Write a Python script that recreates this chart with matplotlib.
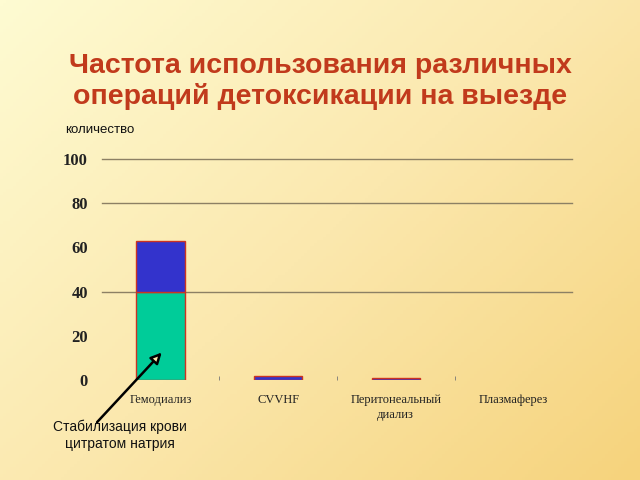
import numpy as np
import matplotlib.pyplot as plt
from matplotlib.colors import LinearSegmentedColormap

# data
categories = ['Гемодиализ', 'CVVHF', 'Перитонеальный\nдиализ', 'Плазмаферез']
citrate = [40, 0, 0, 0]      # стабилизация цитратом (green part)
other = [23, 2, 1, 0]        # остальные (blue part)
grid_levels = [40, 80, 100]
y_ticks = [0, 20, 40, 60, 80, 100]

fig = plt.figure(figsize=(6.4, 4.8), dpi=100)

# background gradient: pale yellow top-left -> warm yellow bottom-right
bg = fig.add_axes([0, 0, 1, 1], zorder=-10)
gx, gy = np.meshgrid(np.linspace(0, 1, 200), np.linspace(0, 1, 150))
grad = 0.55 * gx + 0.45 * gy
bg_cmap = LinearSegmentedColormap.from_list('bg', ['#fefbd2', '#fbe8ae', '#f6d37c'])
bg.imshow(grad, cmap=bg_cmap, aspect='auto', extent=[0, 1, 0, 1], origin='upper')
bg.axis('off')

fig.text(0.5, 0.831, 'Частота использования различных\nопераций детоксикации на выезде',
         ha='center', va='center', fontsize=20.5, fontweight='bold',
         color='#c13a1c', family='Liberation Sans', linespacing=1.2)

ax = fig.add_axes([0.159, 0.208, 0.735, 0.461])
ax.patch.set_alpha(0)
x = np.arange(len(categories))
for xi, g, b in zip(x, citrate, other):
    if g > 0:
        ax.bar(xi, g, width=0.41, color='#00cc99', edgecolor='#cc3322', linewidth=1, zorder=3)
    if b > 0:
        ax.bar(xi, b, width=0.41, bottom=g, color='#3333cc', edgecolor='#cc3322',
               linewidth=1, zorder=3)

for lv in grid_levels:
    ax.axhline(lv, color='#8c8064', linewidth=1, zorder=1, clip_on=False)

ax.set_xlim(-0.5, len(categories) - 0.5)
ax.set_ylim(0, 100)
ax.set_yticks(y_ticks)
ax.set_yticklabels([str(t) for t in y_ticks], family='Liberation Serif', fontsize=12,
                   fontweight='bold', color='#222222')
ax.set_xticks(x)
ax.set_xticklabels(categories, family='Liberation Serif', fontsize=9, color='#222222',
                   linespacing=1.3)
ax.set_xticks(x[:-1] + 0.5, minor=True)
ax.tick_params(axis='y', length=0, pad=10)
ax.tick_params(axis='x', which='major', length=0, pad=10)
ax.tick_params(axis='x', which='minor', length=3, color='#777777', direction='in')
for s in ax.spines.values():
    s.set_visible(False)

fig.text(0.102, 0.722, 'количество', fontsize=9.5, family='Liberation Sans', color='#111111')

ax.text(-0.347, -25, 'Стабилизация крови\nцитратом натрия', ha='center', va='center',
        fontsize=10, family='Liberation Sans', color='#111111', linespacing=1.3,
        clip_on=False)
ax.annotate('', xy=(0.01, 12.5), xytext=(-0.54, -19), annotation_clip=False,
            arrowprops=dict(arrowstyle='-|>', edgecolor='black', facecolor='#f8e6a8',
                            lw=1.8, mutation_scale=16, shrinkA=0, shrinkB=0))

fig.savefig('out.png', dpi=100)
